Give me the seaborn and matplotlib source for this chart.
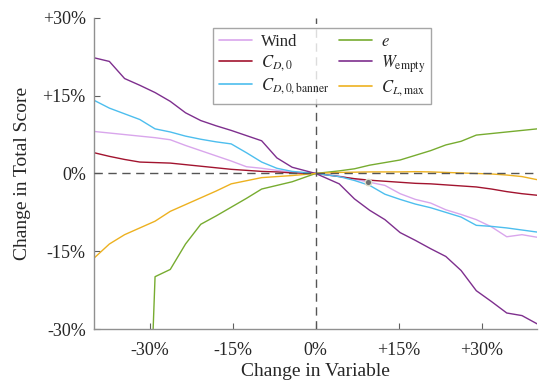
import numpy as np
import pandas as pd
import matplotlib
matplotlib.use('Agg')
import matplotlib.pyplot as plt
import seaborn as sns

# Change in variable (%)
x_vals = [-40, -37.25, -34.5, -31.75, -29, -26.25, -23.5, -20.75, -18, -15.25,
          -12.5, -9.75, -7, -4.25, 0, 4.25, 7, 9.75, 12.5, 15.25,
          18, 20.75, 23.5, 26.25, 29, 31.75, 34.5, 37.25, 40]

# Change in total score (%) per variable
wind = [8.1, 7.8, 7.5, 7.2, 6.9, 6.5, 5.4, 4.4, 3.4, 2.4, 1.3, 1.0, 0.6, 0.3, 0,
        -0.5, -1.1, -1.7, -2.3, -3.9, -5.0, -5.7, -7.0, -7.9, -8.9, -10.3, -12.2, -11.8, -12.3]
cd0 = [4.0, 3.3, 2.7, 2.2, 2.1, 2.0, 1.7, 1.4, 1.1, 0.8, 0.6, 0.4, 0.3, 0.1, 0,
       -0.6, -1.0, -1.3, -1.5, -1.7, -1.9, -2.0, -2.2, -2.4, -2.6, -3.0, -3.5, -3.9, -4.2]
cd0_banner = [14.1, 12.6, 11.5, 10.4, 8.6, 8.0, 7.2, 6.6, 6.1, 5.7, 4.0, 2.2, 1.0, 0.4, 0,
              -0.6, -1.35, -2.3, -4.0, -5.0, -5.9, -6.6, -7.5, -8.4, -10.0, -10.2, -10.5, -10.9, -11.3]
e_oswald = [-100, -100, -100, -100, -19.9, -18.5, -13.6, -9.8, -8.2, -6.5, -4.8, -3.0, -2.3, -1.6, 0,
            0.5, 0.9, 1.6, 2.1, 2.6, 3.5, 4.4, 5.5, 6.2, 7.4, 7.7, 8.0, 8.3, 8.6]
w_empty = [22.3, 21.6, 18.3, 17.0, 15.6, 13.9, 11.7, 10.2, 9.2, 8.3, 7.3, 6.3, 3.0, 1.2, 0,
           -2.0, -4.9, -7.1, -8.9, -11.4, -12.9, -14.5, -16.0, -18.7, -22.6, -24.7, -26.9, -27.4, -29.0]
cl_max = [-16.3, -13.6, -11.8, -10.5, -9.2, -7.3, -6.0, -4.7, -3.4, -2.0, -1.4, -0.8, -0.6, -0.4, 0,
          0.2, 0.25, 0.3, 0.3, 0.3, 0.35, 0.3, 0.2, 0.1, 0.0, -0.1, -0.3, -0.6, -1.2]

# highlighted point
point_x = [9.4]
point_y = [-1.6]

ticks = [-30, -15, 0, 15, 30]
tick_labels = ['-30%', '-15%', '0%', '+15%', '+30%']

names = ['Wind', r'$C_{D,0}$', r'$C_{D,0,\rm banner}$', r'$e$', r'$W_{\rm empty}$', r'$C_{L,\rm max}$']
series = [wind, cd0, cd0_banner, e_oswald, w_empty, cl_max]
colors = ['#d9a6ec', '#a2142f', '#4dbeee', '#77ac30', '#7e2f8e', '#edb120']

df = pd.concat([pd.DataFrame({'x': x_vals, 'y': s, 'var': n}) for n, s in zip(names, series)])

sns.set_style('white')
plt.rcParams['font.family'] = ['Liberation Serif', 'DejaVu Serif']
plt.rcParams['mathtext.fontset'] = 'stix'

fig = plt.figure(figsize=(5.41, 3.80), dpi=100)
ax = fig.add_axes([0.174, 0.134, 0.819, 0.819])

sns.lineplot(data=df, x='x', y='y', hue='var', hue_order=names,
             palette=dict(zip(names, colors)), linewidth=1.0, ax=ax, sort=False)

ax.axhline(0, color='#555555', ls=(0, (6, 4)), lw=1.0, zorder=5)
ax.axvline(0, color='#555555', ls=(0, (6, 4)), lw=1.0, zorder=5)
ax.scatter(point_x, point_y, s=22, color='#707070', edgecolor='#dcdcc8', linewidth=1.0, zorder=6)

ax.set_xlim(-40, 40)
ax.set_ylim(-30, 30)
ax.set_xticks(ticks)
ax.set_xticklabels(tick_labels)
ax.set_yticks(ticks)
ax.set_yticklabels(tick_labels)
ax.tick_params(direction='in', length=4, width=0.8, color='#606060', labelsize=13, pad=6,
               bottom=True, left=True)
ax.tick_params(axis='x', pad=9)
for side in ['top', 'right']:
    ax.spines[side].set_visible(False)
for side in ['left', 'bottom']:
    ax.spines[side].set_color('#909090')
    ax.spines[side].set_linewidth(1.0)

ax.set_xlabel('Change in Variable', fontsize=14, labelpad=3)
ax.set_ylabel('Change in Total Score', fontsize=14, labelpad=8)

handles, labels = ax.get_legend_handles_labels()
leg = ax.legend(handles, labels, ncol=2, loc='upper left', bbox_to_anchor=(0.269, 0.968),
                borderaxespad=0, fontsize=12, frameon=True, fancybox=False,
                edgecolor='#909090', handlelength=2.0, columnspacing=0.6,
                labelspacing=0.2, borderpad=0.35, handletextpad=0.5)
leg.get_frame().set_linewidth(1.0)
for line in leg.get_lines():
    line.set_linewidth(1.2)

fig.savefig('out.png', dpi=100)
